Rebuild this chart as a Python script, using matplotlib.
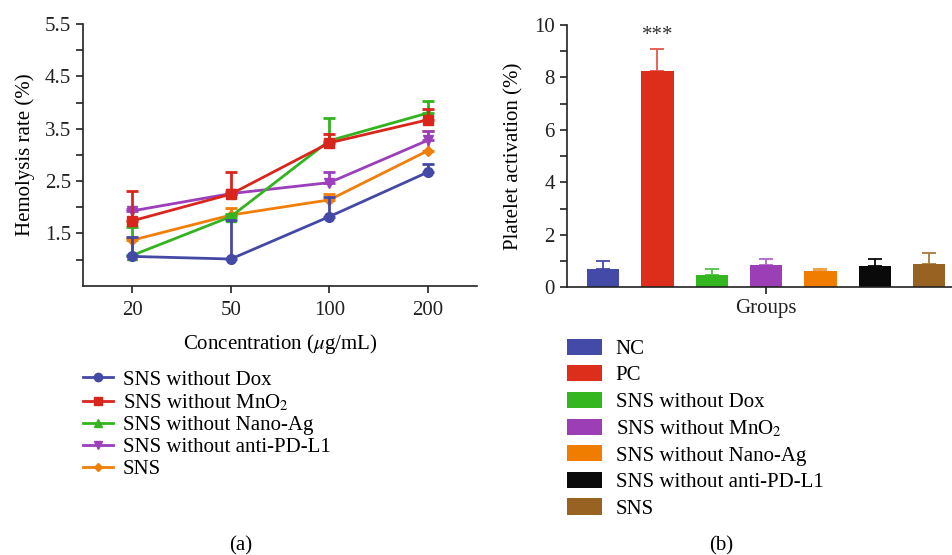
import numpy as np
import matplotlib
matplotlib.use("Agg")
import matplotlib.pyplot as plt
from matplotlib.patches import Patch
from matplotlib.lines import Line2D

plt.rcParams['font.family'] = ['Liberation Serif', 'DejaVu Serif']
plt.rcParams['mathtext.fontset'] = 'stix'

# ---- panel (a): hemolysis ----
conc_labels = ['20', '50', '100', '200']
hemo_names = ['SNS without Dox', 'SNS without MnO$_2$', 'SNS without Nano-Ag',
              'SNS without anti-PD-L1', 'SNS']
hemo_dox = [1.06, 1.01, 1.82, 2.67]
hemo_dox_err = [0.38, 0.74, 0.38, 0.15]
hemo_mno2 = [1.74, 2.25, 3.23, 3.67]
hemo_mno2_err = [0.57, 0.42, 0.16, 0.20]
hemo_ag = [1.08, 1.82, 3.27, 3.80]
hemo_ag_err = [0.55, 0.05, 0.43, 0.23]
hemo_pd = [1.93, 2.26, 2.47, 3.28]
hemo_pd_err = [0.04, 0.04, 0.21, 0.17]
hemo_sns = [1.37, 1.85, 2.14, 3.08]
hemo_sns_err = [0.05, 0.13, 0.11, 0.38]

# ---- panel (b): platelet activation ----
groups = ['NC', 'PC', 'SNS without Dox', 'SNS without MnO$_2$',
          'SNS without Nano-Ag', 'SNS without anti-PD-L1', 'SNS']
platelet = [0.69, 8.26, 0.46, 0.84, 0.61, 0.80, 0.88]
platelet_err = [0.33, 0.84, 0.25, 0.24, 0.10, 0.29, 0.42]

line_colors = ['#4549a6', '#d9261c', '#33b31f', '#9b3fbb', '#f07f0a']
line_markers = ['o', 's', '^', 'v', 'D']
line_msize = [7, 7, 7, 7, 5]
line_z = [5, 6, 4, 3, 2]
bar_colors = ['#444aa8', '#dc2e1b', '#33b61f', '#9c3fb7', '#f07c00', '#0a0a0a', '#976222']
err_colors = ['#444aa8', '#e8564a', '#55c245', '#b066c8', '#f39a3a', '#0a0a0a', '#a87a3f']

fs = 15

fig = plt.figure(figsize=(9.52, 5.55), dpi=100)

ax1 = fig.add_axes([0.0872, 0.4852, 0.414, 0.4715])
xs = np.arange(len(conc_labels))
series = [(hemo_dox, hemo_dox_err), (hemo_mno2, hemo_mno2_err), (hemo_ag, hemo_ag_err),
          (hemo_pd, hemo_pd_err), (hemo_sns, hemo_sns_err)]
for i, (vals, errs) in enumerate(series):
    ax1.errorbar(xs, vals, yerr=[np.zeros(len(errs)), errs], color=line_colors[i],
                 marker=line_markers[i], markersize=line_msize[i], lw=2, elinewidth=2,
                 capsize=4, capthick=2, zorder=line_z[i], label=hemo_names[i])
ax1.set_xlim(-0.5, 3.5)
ax1.set_ylim(0.5, 5.5)
ax1.set_xticks(xs)
ax1.set_xticklabels(conc_labels)
ax1.set_yticks([1.5, 2.5, 3.5, 4.5, 5.5])
ax1.set_yticks([1.0, 2.0, 3.0, 4.0, 5.0], minor=True)
ax1.tick_params(which='both', direction='out', length=5, width=1.2, labelsize=fs, colors='#222222')
ax1.tick_params(axis='x', pad=6)
for s in ['top', 'right']:
    ax1.spines[s].set_visible(False)
for s in ['left', 'bottom']:
    ax1.spines[s].set_linewidth(1.2)
    ax1.spines[s].set_color('#222222')
ax1.set_ylabel('Hemolysis rate (%)', fontsize=fs, labelpad=7)
ax1.set_xlabel(r'Concentration ($\mu$g/mL)', fontsize=fs, labelpad=9)

handles = [Line2D([0], [0], color=line_colors[i], marker=line_markers[i],
                  markersize=line_msize[i] - 1, lw=2) for i in range(5)]
fig.legend(handles, hemo_names, loc='upper left', bbox_to_anchor=(0.078, 0.348),
           frameon=False, fontsize=fs, handlelength=1.45, handletextpad=0.48,
           labelspacing=0.12, borderaxespad=0)

ax2 = fig.add_axes([0.5953, 0.4823, 0.4047, 0.4726])
bx = np.arange(len(groups))
ax2.bar(bx, platelet, width=0.6, color=bar_colors, zorder=2)
for i in range(len(groups)):
    ax2.errorbar(bx[i], platelet[i], yerr=[[0], [platelet_err[i]]], color=err_colors[i],
                 lw=0, elinewidth=1.3, capsize=5, capthick=1.3, zorder=1)
ax2.text(bx[1], platelet[1] + platelet_err[1] + 0.12, '***', ha='center', va='bottom',
         fontsize=fs, color='#333333')
ax2.set_xlim(-0.67, 6.42)
ax2.set_ylim(0, 10)
ax2.set_yticks([0, 2, 4, 6, 8, 10])
ax2.set_yticks([1, 3, 5, 7, 9], minor=True)
ax2.set_xticks([3])
ax2.set_xticklabels(['Groups'])
ax2.tick_params(which='both', direction='out', length=5, width=1.2, labelsize=fs, colors='#222222')
for s in ['top', 'right']:
    ax2.spines[s].set_visible(False)
for s in ['left', 'bottom']:
    ax2.spines[s].set_linewidth(1.2)
    ax2.spines[s].set_color('#222222')
ax2.set_ylabel('Platelet activation (%)', fontsize=fs, labelpad=8)

patches = [Patch(facecolor=c) for c in bar_colors]
fig.legend(patches, groups, loc='upper left', bbox_to_anchor=(0.5865, 0.405),
           frameon=False, fontsize=fs, handlelength=1.68, handleheight=0.82,
           handletextpad=0.67, labelspacing=0.30, borderaxespad=0)

fig.text(241 / 952, 1 - 546 / 555, '(a)', ha='center', va='center', fontsize=fs)
fig.text(721 / 952, 1 - 546 / 555, '(b)', ha='center', va='center', fontsize=fs)

fig.savefig('out.png', dpi=100)
